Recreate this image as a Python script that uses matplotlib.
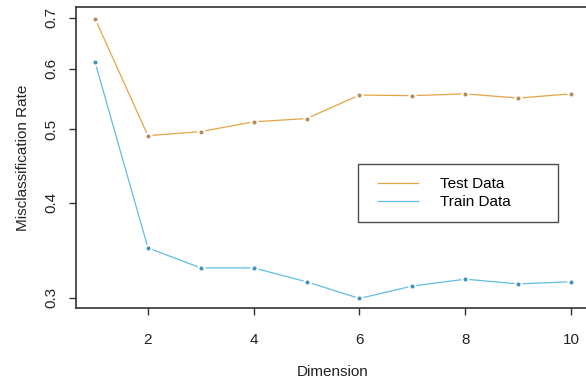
import matplotlib
matplotlib.use("Agg")
import matplotlib.pyplot as plt
from matplotlib.ticker import FixedLocator, NullLocator, FixedFormatter
from matplotlib.legend_handler import HandlerLine2D

plt.rcParams['font.family'] = ['Liberation Sans', 'DejaVu Sans']

dimension = [1, 2, 3, 4, 5, 6, 7, 8, 9, 10]
test_rate = [0.698, 0.490, 0.496, 0.511, 0.516, 0.554, 0.553, 0.556, 0.549, 0.556]
train_rate = [0.612, 0.349, 0.3285, 0.3285, 0.315, 0.2995, 0.311, 0.3175, 0.313, 0.315]
y_ticks = [0.3, 0.4, 0.5, 0.6, 0.7]
x_ticks = [2, 4, 6, 8, 10]

test_col, test_pt = '#E3A545', '#B98A55'
train_col, train_pt = '#62BCE6', '#3C93C4'

fig = plt.figure(figsize=(5.86, 3.82), dpi=100)
W, H = 586, 382
ax = fig.add_axes([76 / W, 1 - 308 / H, (590 - 76) / W, (308 - 7) / H])

lines = []
for vals, col, pt, lab in [(test_rate, test_col, test_pt, 'Test Data'),
                           (train_rate, train_col, train_pt, 'Train Data')]:
    ln, = ax.plot(dimension, vals, '-', color=col, lw=0.9, label=lab)
    lines.append(ln)
    ax.plot(dimension, vals, 'o', ms=3.4, mec='white', mew=2.6, mfc='white')
    ax.plot(dimension, vals, 'o', ms=2.9, mfc=pt, mec=pt, mew=0)

ax.set_yscale('log')
ax.set_ylim(0.291, 0.723)
ax.set_xlim(0.64, 10.36)
ax.yaxis.set_major_locator(FixedLocator(y_ticks))
ax.yaxis.set_major_formatter(FixedFormatter([str(v) for v in y_ticks]))
ax.yaxis.set_minor_locator(NullLocator())
ax.set_xticks(x_ticks)

for s in ax.spines.values():
    s.set_linewidth(1.2)
    s.set_color('#333333')

ax.tick_params(axis='both', length=5, width=1, color='#333333', labelsize=11, labelcolor='#222222')
ax.tick_params(axis='x', pad=13)
ax.tick_params(axis='y', pad=8)
for lbl in ax.get_yticklabels():
    lbl.set_rotation(90)
    lbl.set_va('center')

ax.set_xlabel('Dimension', fontsize=11, color='#222222', labelpad=13)
ax.set_ylabel('Misclassification Rate', fontsize=11, color='#222222', labelpad=10)

top = 1 - (164 - 7) / 301
leg = ax.legend(handles=lines, loc='upper left',
                bbox_to_anchor=((358 - 76) / 514, top - 0.3, 200 / 514, 0.3),
                mode='expand', frameon=True, fancybox=False, fontsize=11, handlelength=3.07,
                borderpad=0.87, labelspacing=0.25, handletextpad=1.44, borderaxespad=0,
                handler_map={l: HandlerLine2D(xpad=0.46) for l in lines})
leg.get_frame().set_edgecolor('#222222')
leg.get_frame().set_linewidth(1)

fig.savefig('out.png', dpi=100)
